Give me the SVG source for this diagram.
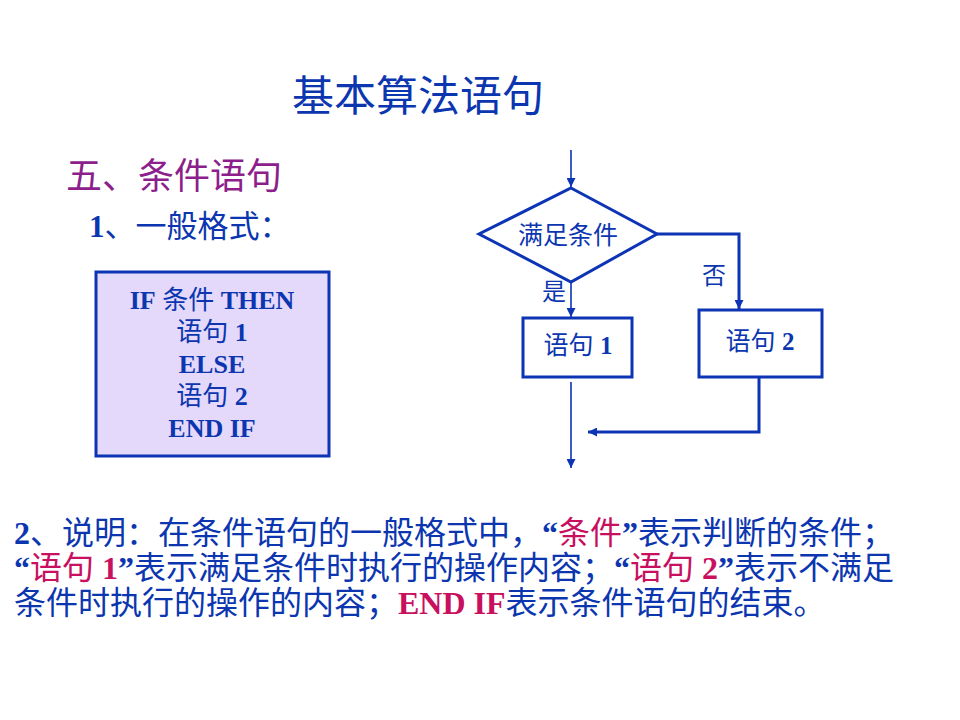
<svg xmlns="http://www.w3.org/2000/svg" width="960" height="720" viewBox="0 0 960 720">
<style>
.t{font-family:"Liberation Serif","Noto Sans CJK SC",serif;fill:#0b36b0}
.b{font-weight:bold}
.r{fill:#c8105f}
.q{font-weight:bold;fill:#0b36b0}
.shape{fill:#ffffff;stroke:#0d34b4;stroke-width:3}
.thin{fill:none;stroke:#0d34b4;stroke-width:1.6}
.thick{fill:none;stroke:#0d34b4;stroke-width:3}
</style>
<defs>
<marker id="ah" markerUnits="userSpaceOnUse" markerWidth="10" markerHeight="9" refX="9" refY="4.5" orient="auto">
<path d="M0,0 L9,4.5 L0,9 z" fill="#0d34b4"/>
</marker>
</defs>
<rect width="960" height="720" fill="#ffffff"/>
<text class="t" x="292" y="111" font-size="42">基本算法语句</text>
<text class="t" x="66" y="189" font-size="36" style="fill:#8c1f8c">五、条件语句</text>
<text class="t" x="89" y="237" font-size="31"><tspan class="b">1</tspan>、一般格式：</text>
<g id="code">
<rect x="96" y="272" width="233" height="184" fill="#e4d8fb" stroke="#0d34b4" stroke-width="3"/>
<g class="t" font-size="26" text-anchor="middle">
<text class="t" x="212" y="309"><tspan class="b">IF</tspan> 条件 <tspan class="b">THEN</tspan></text>
<text class="t" x="212" y="341">语句 <tspan class="b">1</tspan></text>
<text class="t b" x="212" y="373">ELSE</text>
<text class="t" x="212" y="405">语句 <tspan class="b">2</tspan></text>
<text class="t b" x="212" y="437">END IF</text>
</g>
</g>
<g id="decision">
<polygon class="shape" points="571,188 657,234 571,282 479,234"/>
<text class="t" x="568" y="244" font-size="25" text-anchor="middle">满足条件</text>
</g>
<g id="stmt1">
<rect class="shape" x="523" y="318" width="109" height="59"/>
<text class="t" x="578" y="354" font-size="25" text-anchor="middle">语句 <tspan class="b">1</tspan></text>
</g>
<g id="stmt2">
<rect class="shape" x="699" y="310" width="123" height="67"/>
<text class="t" x="760" y="350" font-size="25" text-anchor="middle">语句 <tspan class="b">2</tspan></text>
</g>
<g id="connectors">
<path class="thin" d="M571,150 V187" marker-end="url(#ah)"/>
<path class="thick" d="M657,234 H739 V309" marker-end="url(#ah)"/>
<path class="thin" d="M571,282 V317" marker-end="url(#ah)"/>
<path class="thick" d="M759,377 V432 H588" marker-end="url(#ah)"/>
<path class="thin" d="M571,382 V468" marker-end="url(#ah)"/>
<text class="t" x="542" y="300" font-size="24">是</text>
<text class="t" x="702" y="284" font-size="24">否</text>
</g>
<g font-size="32">
<text class="t" x="14" y="544"><tspan class="b">2</tspan>、说明：在条件语句的一般格式中，<tspan class="q">“</tspan><tspan class="r">条件</tspan><tspan class="q">”</tspan>表示判断的条件；</text>
<text class="t" x="14" y="579"><tspan class="q">“</tspan><tspan class="r">语句 </tspan><tspan class="r b">1</tspan><tspan class="q">”</tspan>表示满足条件时执行的操作内容；<tspan class="q">“</tspan><tspan class="r">语句 </tspan><tspan class="r b">2</tspan><tspan class="q">”</tspan>表示不满足</text>
<text class="t" x="14" y="614">条件时执行的操作的内容；<tspan class="r b">END IF</tspan>表示条件语句的结束。</text>
</g>
</svg>
